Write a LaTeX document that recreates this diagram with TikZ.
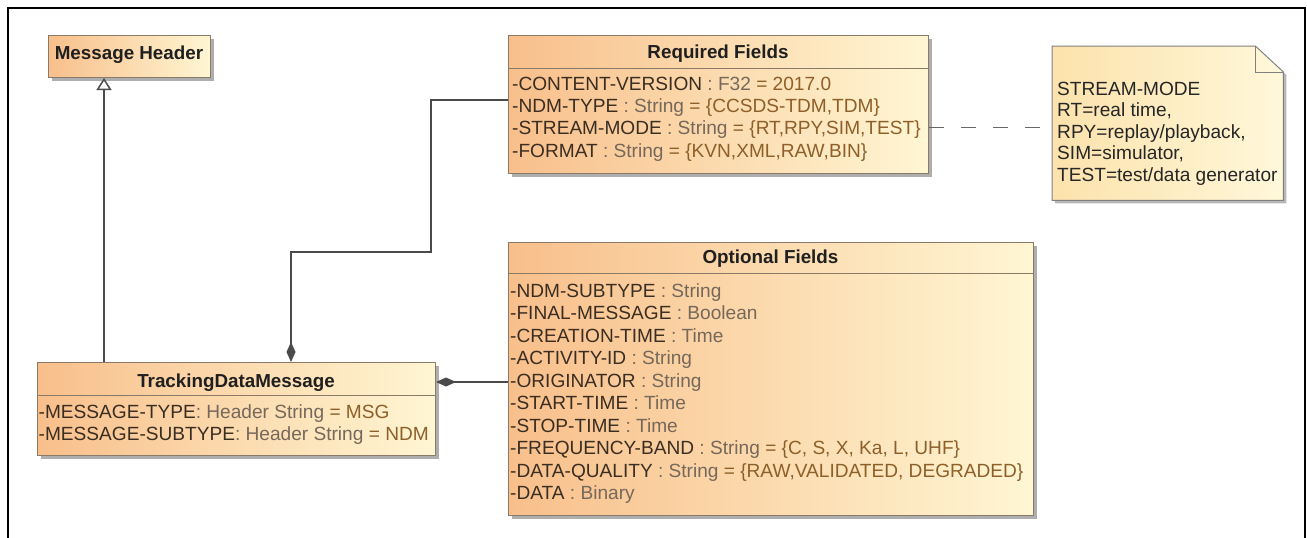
\documentclass[tikz,border=0pt]{standalone}
\usepackage{fontspec}
\setmainfont{Liberation Sans}
\usetikzlibrary{arrows.meta,shadows}
\definecolor{boxL}{HTML}{F8BF8B}
\definecolor{boxR}{HTML}{FFF6D3}
\definecolor{noteL}{HTML}{FCE2AC}
\definecolor{noteR}{HTML}{FFF8DA}
\definecolor{edge}{HTML}{8A7A68}
\definecolor{nm}{HTML}{3A2D22}
\definecolor{ty}{HTML}{76685A}
\definecolor{vl}{HTML}{8E5F28}
\definecolor{conn}{HTML}{4A4A4A}
\newcommand{\attr}[3]{\textcolor{nm}{#1}\textcolor{ty}{#2}\textcolor{vl}{#3}}
\tikzset{
  umlbox/.style={draw=edge, line width=1pt, left color=boxL, right color=boxR,
    rectangle, inner sep=0pt, anchor=north west,
    drop shadow={shadow xshift=3pt, shadow yshift=-3pt, fill=black!45, opacity=0.7}},
  ttl/.style={font=\fontsize{18.8}{22}\selectfont\bfseries, text=black!88, anchor=base, inner sep=0pt},
  row/.style={font=\fontsize{19.1}{22}\selectfont, anchor=base west, inner sep=0pt},
  sepline/.style={draw=edge, line width=1pt},
  link/.style={draw=conn, line width=1.5pt},
  comp/.style={link, {Diamond[length=20pt,width=9pt,fill=conn]}-},
  gen/.style={link, -{Triangle[length=12pt,width=15pt,fill=white]}},
  dashlink/.style={draw=black!60, line width=1pt, dash pattern=on 15pt off 17pt}
}
\begin{document}
\begin{tikzpicture}[x=1pt,y=-1pt]
\useasboundingbox (0,0) rectangle (1307,538);
% frame
\draw[line width=2.5pt] (8,538) -- (8,8) -- (1305,8) -- (1305,538);

% Message Header
\node[umlbox, minimum width=162pt, minimum height=42pt] (mh) at (48,35) {};
\node[ttl] (mht) at (129,59) {Message Header};

% Required Fields
\node[umlbox, minimum width=420pt, minimum height=138pt] (rf) at (508,35) {};
\draw[sepline] ([yshift=-33pt]rf.north west) -- ([yshift=-33pt]rf.north east);
\node[ttl] (rft) at (718,58) {Required Fields};
\node[row] (rf1) at (512,90) {\attr{-CONTENT-VERSION}{\ :\ F32\ }{= 2017.0}};
\node[row] (rf2) at (512,112.3) {\attr{-NDM-TYPE}{\ :\ String\ }{= \{CCSDS-TDM,TDM\}}};
\node[row] (rf3) at (512,134.6) {\attr{-STREAM-MODE}{\ :\ String\ }{= \{RT,RPY,SIM,TEST\}}};
\node[row] (rf4) at (512,157) {\attr{-FORMAT}{\ :\ String\ }{= \{KVN,XML,RAW,BIN\}}};

% Note
\node[inner sep=0pt, minimum width=231pt, minimum height=154pt, anchor=north west] (note) at (1052,46) {};
\fill[black!40, opacity=0.7] ([xshift=3pt,yshift=-3pt]note.north west) -- ([xshift=-25pt,yshift=-3pt]note.north east)
  -- ([xshift=3pt,yshift=-29pt]note.north east) -- ([xshift=3pt,yshift=-3pt]note.south east)
  -- ([xshift=3pt,yshift=-3pt]note.south west) -- cycle;
\draw[draw=black!50, line width=1pt, left color=noteL, right color=noteR]
  (note.north west) -- ([xshift=-28pt]note.north east) -- ([yshift=-26pt]note.north east)
  -- (note.south east) -- (note.south west) -- cycle;
\draw[draw=black!50, line width=1pt] ([xshift=-28pt]note.north east) -- ([xshift=-28pt,yshift=-26pt]note.north east)
  -- ([yshift=-26pt]note.north east);
\node[row, text=black!85] (n1) at (1057,95) {STREAM-MODE};
\node[row, text=black!85] (n2) at (1057,116.5) {RT=real time,};
\node[row, text=black!85] (n3) at (1057,138) {RPY=replay/playback,};
\node[row, text=black!85] (n4) at (1057,159.5) {SIM=simulator,};
\node[row, text=black!85] (n5) at (1057,181) {TEST=test/data generator};

% Optional Fields
\node[umlbox, minimum width=525pt, minimum height=273pt] (of) at (508,242) {};
\draw[sepline] ([yshift=-31pt]of.north west) -- ([yshift=-31pt]of.north east);
\node[ttl] (oft) at (770.5,263) {Optional Fields};
\node[row] (of1) at (510,297) {\attr{-NDM-SUBTYPE}{\ :\ String}{}};
\node[row] (of2) at (510,319.5) {\attr{-FINAL-MESSAGE}{\ :\ Boolean}{}};
\node[row] (of3) at (510,342) {\attr{-CREATION-TIME}{\ :\ Time}{}};
\node[row] (of4) at (510,364.5) {\attr{-ACTIVITY-ID}{\ :\ String}{}};
\node[row] (of5) at (510,387) {\attr{-ORIGINATOR}{\ :\ String}{}};
\node[row] (of6) at (510,409.5) {\attr{-START-TIME}{\ :\ Time}{}};
\node[row] (of7) at (510,432) {\attr{-STOP-TIME}{\ :\ Time}{}};
\node[row] (of8) at (510,454.5) {\attr{-FREQUENCY-BAND}{\ :\ String\ }{= \{C, S, X, Ka, L, UHF\}}};
\node[row] (of9) at (510,477) {\attr{-DATA-QUALITY}{\ :\ String\ }{= \{RAW,VALIDATED, DEGRADED\}}};
\node[row] (of10) at (510,499.5) {\attr{-DATA}{\ :\ Binary}{}};

% TrackingDataMessage
\node[umlbox, minimum width=398pt, minimum height=93pt] (tdm) at (37,362) {};
\draw[sepline] ([yshift=-33pt]tdm.north west) -- ([yshift=-33pt]tdm.north east);
\node[ttl] (tdmt) at (236,387) {TrackingDataMessage};
\node[row] (t1) at (38.5,418) {\attr{-MESSAGE-TYPE}{:\ Header String\ }{= MSG}};
\node[row] (t2) at (38.5,440) {\attr{-MESSAGE-SUBTYPE}{:\ Header String\ }{= NDM}};

% connectors
\coordinate (g1) at (104,0);
\draw[gen] (tdm.north -| g1) -- (mh.south -| g1);
\coordinate (c1) at (291,0);
\coordinate (c2) at (431,252);
\coordinate (c3) at (0,100);
\draw[comp] (tdm.north -| c1) |- (c2) |- (rf.west |- c3);
\coordinate (c4) at (0,382);
\draw[comp] (tdm.east |- c4) -- (of.west |- c4);
\coordinate (c5) at (0,127);
\draw[dashlink] (rf.east |- c5) -- (note.west |- c5);
\end{tikzpicture}
\end{document}
